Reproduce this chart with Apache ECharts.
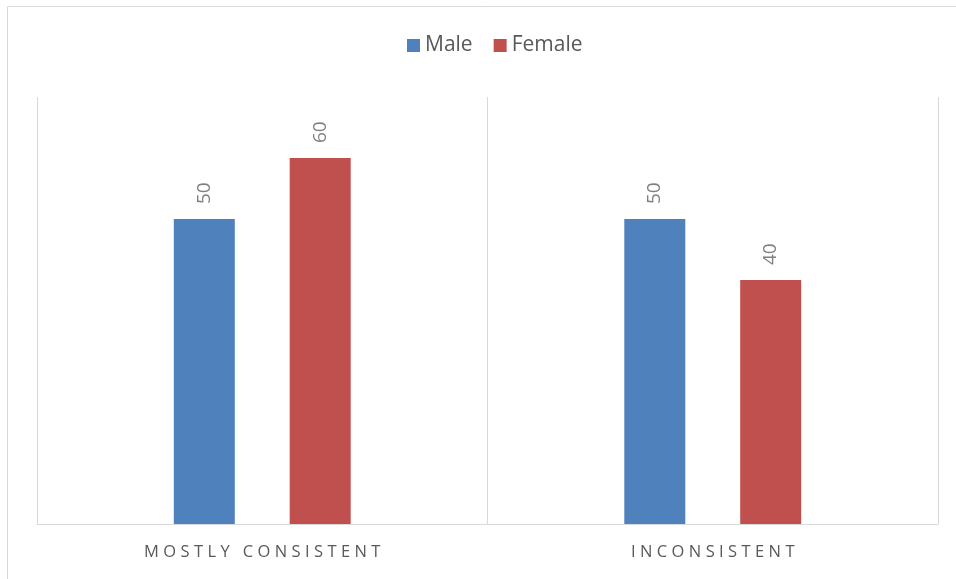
<!DOCTYPE html>
<html>
<head>
<meta charset="utf-8">
<style>
  html, body { margin: 0; padding: 0; background: #fff; }
  #chart { width: 956px; height: 579px; }
</style>
<script src="https://cdn.jsdelivr.net/npm/echarts@6/dist/echarts.min.js"></script>
</head>
<body>
<div id="chart"></div>
<script>
const categories = ['MOSTLY CONSISTENT', 'INCONSISTENT'];
const maleValues = [50, 50];
const femaleValues = [60, 40];
const seriesNames = ['Male', 'Female'];

function spaced(s) {
  return s.split('').join('\u2009\u200A');
}

const chart = echarts.init(document.getElementById('chart'));
const labelCfg = {
  show: true,
  position: 'top',
  rotate: 90,
  align: 'left',
  verticalAlign: 'middle',
  distance: 15,
  color: '#808080',
  fontSize: 19,
  fontFamily: 'Open Sans'
};
chart.setOption({
  animation: false,
  textStyle: { fontFamily: 'Open Sans' },
  graphic: [{
    type: 'rect',
    shape: { x: 7.5, y: 6.5, width: 1000, height: 1000 },
    style: { fill: 'none', stroke: '#d9d9d9', lineWidth: 1 },
    silent: true
  }],
  legend: {
    data: seriesNames,
    top: 30,
    left: 402,
    itemWidth: 13,
    itemHeight: 13,
    itemGap: 21,
    icon: 'rect',
    textStyle: { color: '#595959', fontSize: 21, fontFamily: 'Open Sans' }
  },
  grid: { left: 37, right: 18, top: 97, bottom: 55, containLabel: false },
  xAxis: {
    type: 'category',
    data: categories,
    axisLine: { lineStyle: { color: '#d9d9d9', width: 1 } },
    axisTick: { show: false },
    splitLine: { show: true, lineStyle: { color: '#d9d9d9', width: 1 } },
    axisLabel: {
      color: '#595959',
      fontSize: 16.5,
      fontFamily: 'Open Sans',
      margin: 20,
      formatter: spaced
    }
  },
  yAxis: {
    type: 'value',
    min: 0,
    max: 70,
    show: false,
    splitLine: { show: false }
  },
  series: [
    {
      name: seriesNames[0],
      type: 'bar',
      data: maleValues,
      barWidth: 61,
      barGap: '90%',
      itemStyle: { color: '#4F81BD' },
      label: labelCfg
    },
    {
      name: seriesNames[1],
      type: 'bar',
      data: femaleValues,
      barWidth: 61,
      itemStyle: { color: '#C0504D' },
      label: labelCfg
    }
  ]
});
</script>
</body>
</html>
